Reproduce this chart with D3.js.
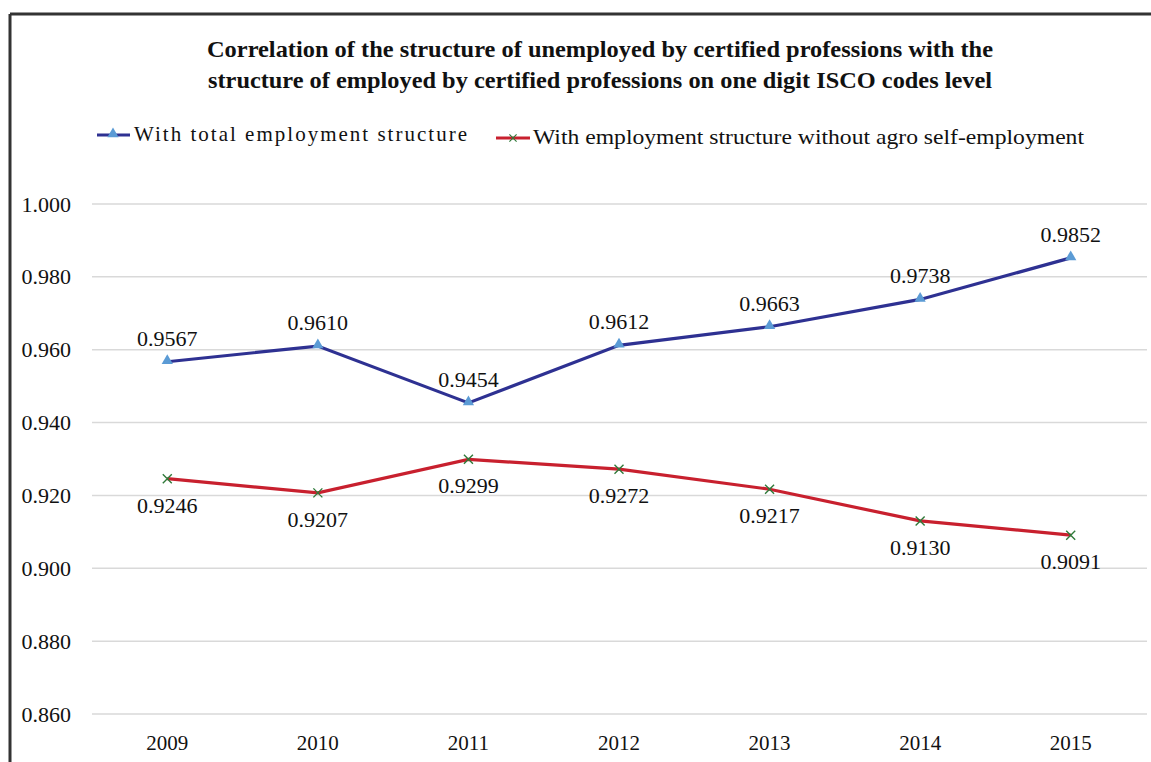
<!DOCTYPE html>
<html lang="en">
<head>
<meta charset="UTF-8">
<title>Correlation chart</title>
<style>
body { margin: 0; background: #fff; }
svg text { font-family: "Liberation Serif", "DejaVu Serif", serif; fill: #111; }
.grid line { stroke: #d9d9d9; stroke-width: 1.5px; }
</style>
</head>
<body>
<svg id="chart"></svg>
<script src="https://d3js.org/d3.v7.min.js"></script>
<script>
// data
const years = ["2009", "2010", "2011", "2012", "2013", "2014", "2015"];
const totalEmp = [0.9567, 0.9610, 0.9454, 0.9612, 0.9663, 0.9738, 0.9852];
const noAgroEmp = [0.9246, 0.9207, 0.9299, 0.9272, 0.9217, 0.9130, 0.9091];
const yTicks = [0.86, 0.88, 0.90, 0.92, 0.94, 0.96, 0.98, 1.00];
const titleLines = [
    "Correlation of the structure of unemployed by certified professions with the",
    "structure of employed by certified professions on one digit ISCO codes level"
];
const seriesNames = ["With total employment structure", "With employment structure without agro self-employment"];

const W = 1151, H = 762;
const svg = d3.select("#chart").attr("width", W).attr("height", H);

// outer frame (only left and top visible in the crop)
svg.append("line").attr("x1", 10).attr("x2", W).attr("y1", 14).attr("y2", 14)
    .attr("stroke", "#333").attr("stroke-width", 3);
svg.append("line").attr("x1", 10).attr("x2", 10).attr("y1", 14).attr("y2", H)
    .attr("stroke", "#333").attr("stroke-width", 3);

const x = d3.scaleBand().domain(years).range([92, 1146]);
const y = d3.scaleLinear().domain([0.86, 1.0]).range([714, 204]);

// gridlines
svg.append("g").attr("class", "grid")
    .selectAll("line").data(yTicks).enter().append("line")
    .attr("x1", 92).attr("x2", 1147)
    .attr("y1", d => y(d)).attr("y2", d => y(d));

// y axis labels
const yAxis = svg.append("g").attr("transform", "translate(71,0)")
    .call(d3.axisLeft(y).tickValues(yTicks).tickFormat(d3.format(".3f")).tickSize(0).tickPadding(0));
yAxis.select(".domain").remove();
yAxis.selectAll("text").attr("font-size", 22).attr("font-family", null).attr("fill", "#111").attr("dy", "0.32em");

// x axis labels
const xAxis = svg.append("g").attr("transform", "translate(0,735)")
    .call(d3.axisBottom(x).tickSize(0).tickPadding(0));
xAxis.select(".domain").remove();
xAxis.selectAll("text").attr("font-size", 21).attr("font-family", null).attr("fill", "#111");

// title
svg.append("g").selectAll("text").data(titleLines).enter().append("text")
    .attr("x", 600).attr("y", (d, i) => 57 + i * 31)
    .attr("text-anchor", "middle").attr("font-size", 23).attr("font-weight", "bold")
    .attr("textLength", (d, i) => i === 0 ? 786 : 784).attr("lengthAdjust", "spacingAndGlyphs")
    .text(d => d);

const cx = d => x(d) + x.bandwidth() / 2;
const line = d3.line().x((d, i) => cx(years[i])).y(d => y(d));

// series lines
svg.append("path").datum(totalEmp).attr("d", line)
    .attr("fill", "none").attr("stroke", "#2E3192").attr("stroke-width", 3.2);
svg.append("path").datum(noAgroEmp).attr("d", line)
    .attr("fill", "none").attr("stroke", "#C8202E").attr("stroke-width", 3.2);

const tri = d3.symbol().type(d3.symbolTriangle).size(55);
function cross(g) {
    g.append("path").attr("d", "M-4.5,-4.5L4.5,4.5M-4.5,4.5L4.5,-4.5")
        .attr("stroke", "#2F7A3A").attr("stroke-width", 1.4).attr("fill", "none");
}

// markers
svg.append("g").selectAll("path").data(totalEmp).enter().append("path")
    .attr("d", tri)
    .attr("transform", (d, i) => `translate(${cx(years[i])},${y(d) - 1})`)
    .attr("fill", "#5B9BD5");
svg.append("g").selectAll("g").data(noAgroEmp).enter().append("g")
    .attr("transform", (d, i) => `translate(${cx(years[i])},${y(d)})`)
    .each(function() { cross(d3.select(this)); });

// data labels
svg.append("g").selectAll("text").data(totalEmp).enter().append("text")
    .attr("x", (d, i) => cx(years[i])).attr("y", d => y(d) - 16)
    .attr("text-anchor", "middle").attr("font-size", 22)
    .text(d => d3.format(".4f")(d));
svg.append("g").selectAll("text").data(noAgroEmp).enter().append("text")
    .attr("x", (d, i) => cx(years[i])).attr("y", d => y(d) + 34)
    .attr("text-anchor", "middle").attr("font-size", 22)
    .text(d => d3.format(".4f")(d));

// legend
const lg1 = svg.append("g").attr("transform", "translate(97,135)");
lg1.append("line").attr("x1", 0).attr("x2", 33).attr("stroke", "#2E3192").attr("stroke-width", 3.2);
lg1.append("path").attr("d", tri).attr("transform", "translate(16,-1)").attr("fill", "#5B9BD5");
lg1.append("text").attr("x", 37).attr("y", 6).attr("font-size", 21)
    .attr("textLength", 333).attr("lengthAdjust", "spacing").text(seriesNames[0]);

const lg2 = svg.append("g").attr("transform", "translate(496,138)");
lg2.append("line").attr("x1", 0).attr("x2", 34).attr("stroke", "#C8202E").attr("stroke-width", 3.2);
lg2.append("g").attr("transform", "translate(17,0) scale(0.8)").call(cross);
lg2.append("text").attr("x", 37).attr("y", 6).attr("font-size", 21)
    .attr("textLength", 551).attr("lengthAdjust", "spacingAndGlyphs").text(seriesNames[1]);
</script>
</body>
</html>
